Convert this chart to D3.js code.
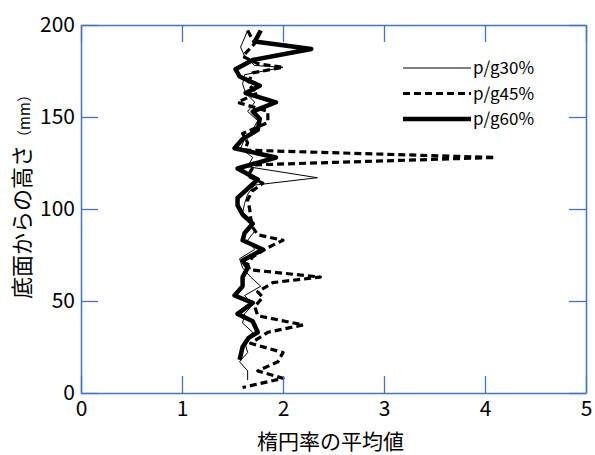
<!DOCTYPE html>
<html>
<head>
<meta charset="utf-8">
<style>
    body { margin: 0; background: #fff; }
    text { font-family: "Noto Sans CJK JP", "Noto Sans", sans-serif; fill: #000; }
</style>
</head>
<body>
<div id="chart"></div>
<script src="https://cdnjs.cloudflare.com/ajax/libs/d3/7.8.5/d3.min.js"></script>
<script>
    // heights (mm) and mean ellipticity per series
    const h30 = [197, 188, 183, 178, 177, 173, 168, 163, 158, 153, 148, 143, 138, 133, 128, 123, 117, 113, 108, 103, 98, 93, 88, 83, 78, 73, 68, 63, 58, 53, 48, 43, 38, 33, 28, 22, 17, 12, 7];
    const v30 = [1.65, 1.58, 1.62, 1.72, 2.0, 1.62, 1.6, 1.63, 1.72, 1.65, 1.75, 1.7, 1.62, 1.58, 1.7, 1.65, 2.34, 1.72, 1.65, 1.62, 1.6, 1.68, 1.72, 1.65, 1.72, 1.57, 1.6, 1.68, 1.78, 1.62, 1.7, 1.62, 1.6, 1.7, 1.62, 1.65, 1.57, 1.65, 1.65];

    const h45 = [197, 190, 183, 179, 177, 174, 168, 163, 158, 153, 150, 147, 141, 136, 132, 128, 124, 118, 114, 110, 105, 100, 95, 90, 86, 83, 79, 74, 70, 67, 63, 60, 55, 52, 47, 42, 37, 33, 27, 22, 17, 12, 8, 3];
    const v45 = [1.65, 1.72, 1.6, 1.75, 2.0, 1.7, 1.65, 1.75, 1.55, 1.85, 1.85, 1.85, 1.6, 1.65, 1.62, 4.1, 1.72, 1.65, 1.8, 1.7, 1.65, 1.67, 1.68, 1.7, 1.75, 2.0, 1.85, 1.7, 1.65, 1.67, 2.37, 1.9, 1.75, 1.8, 1.72, 1.75, 2.2, 1.85, 1.68, 2.0, 1.95, 1.75, 2.0, 1.6];

    const h60 = [197, 191, 187, 181, 176, 172, 167, 163, 158, 153, 149, 143, 138, 133, 128, 122, 116, 111, 106, 102, 97, 92, 87, 83, 78, 72, 68, 63, 58, 53, 49, 43, 39, 33, 30, 25, 18];
    const v60 = [1.78, 1.72, 2.28, 1.7, 1.53, 1.57, 1.77, 1.63, 1.93, 1.7, 1.77, 1.75, 1.6, 1.52, 1.93, 1.55, 1.75, 1.65, 1.55, 1.55, 1.6, 1.7, 1.62, 1.6, 1.8, 1.6, 1.65, 1.6, 1.6, 1.52, 1.7, 1.55, 1.7, 1.75, 1.66, 1.6, 1.57];

    const xTicks = [0, 1, 2, 3, 4, 5];
    const yTicks = [0, 50, 100, 150, 200];

    const series = [
        { name: "p/g45%", h: h45, v: v45, width: 3.2, dash: "7,4" },
        { name: "p/g30%", h: h30, v: v30, width: 1, dash: null },
        { name: "p/g60%", h: h60, v: v60, width: 4.5, dash: null }
    ];
    const legendOrder = ["p/g30%", "p/g45%", "p/g60%"];

    const W = 595, H = 455;
    const margin = { top: 25, right: 9, bottom: 62, left: 81 };
    const width = W - margin.left - margin.right;
    const height = H - margin.top - margin.bottom;
    const axisColor = "#4472C4";

    const svg = d3.select("#chart").append("svg")
        .attr("width", W)
        .attr("height", H);
    const g = svg.append("g")
        .attr("transform", `translate(${margin.left},${margin.top})`);

    const x = d3.scaleLinear().domain([0, 5]).range([0, width]);
    const y = d3.scaleLinear().domain([0, 200]).range([height, 0]);

    // series lines
    const line = d3.line()
        .x(d => x(d[0]))
        .y(d => y(d[1]));

    series.forEach(s => {
        g.append("path")
            .datum(s.v.map((v, i) => [v, s.h[i]]))
            .attr("fill", "none")
            .attr("stroke", "#000")
            .attr("stroke-width", s.width)
            .attr("stroke-dasharray", s.dash)
            .attr("stroke-linejoin", "round")
            .attr("d", line);
    });

    // frame and inside ticks
    const tickLen = 17;
    const bottomAxis = d3.axisBottom(x).tickValues(xTicks).tickFormat(d3.format("d"))
        .tickSizeInner(-tickLen).tickSizeOuter(0).tickPadding(8);
    const topAxis = d3.axisTop(x).tickValues(xTicks).tickSizeInner(-tickLen).tickSizeOuter(0).tickFormat("");
    const leftAxis = d3.axisLeft(y).tickValues(yTicks).tickSizeInner(-tickLen).tickSizeOuter(0).tickPadding(6);
    const rightAxis = d3.axisRight(y).tickValues(yTicks).tickSizeInner(-tickLen).tickSizeOuter(0).tickFormat("");

    const axes = [
        g.append("g").attr("transform", `translate(0,${height})`).call(bottomAxis),
        g.append("g").call(topAxis),
        g.append("g").call(leftAxis),
        g.append("g").attr("transform", `translate(${width},0)`).call(rightAxis)
    ];
    axes.forEach(a => {
        a.select(".domain").attr("stroke", axisColor).attr("stroke-width", 1.5);
        a.selectAll(".tick line").attr("stroke", axisColor).attr("stroke-width", 1.3);
        a.selectAll(".tick text")
            .style("font-family", "'Noto Sans CJK JP', sans-serif")
            .style("font-size", "21px")
            .attr("fill", "#000");
    });

    // axis titles
    svg.append("text")
        .attr("x", margin.left + width / 2 - 3)
        .attr("y", 449)
        .attr("text-anchor", "middle")
        .style("font-size", "21px")
        .text("楕円率の平均値");

    const yTitle = svg.append("text")
        .attr("transform", `translate(30,${margin.top + 168}) rotate(-90)`)
        .attr("text-anchor", "middle")
        .style("font-size", "22px");
    yTitle.append("tspan").text("底面からの高さ");
    yTitle.append("tspan").style("font-size", "15px").text("（mm）");

    // legend
    const legend = svg.append("g").attr("transform", "translate(403,68)");
    legendOrder.forEach((name, i) => {
        const s = series.find(d => d.name === name);
        const row = legend.append("g").attr("transform", `translate(0,${i * 25.5})`);
        row.append("line")
            .attr("x1", 0).attr("x2", 68)
            .attr("stroke", "#000")
            .attr("stroke-width", s.width)
            .attr("stroke-dasharray", s.dash);
        row.append("text")
            .attr("x", 70)
            .attr("y", 6)
            .style("font-size", "17px")
            .text(name);
    });
</script>
</body>
</html>
